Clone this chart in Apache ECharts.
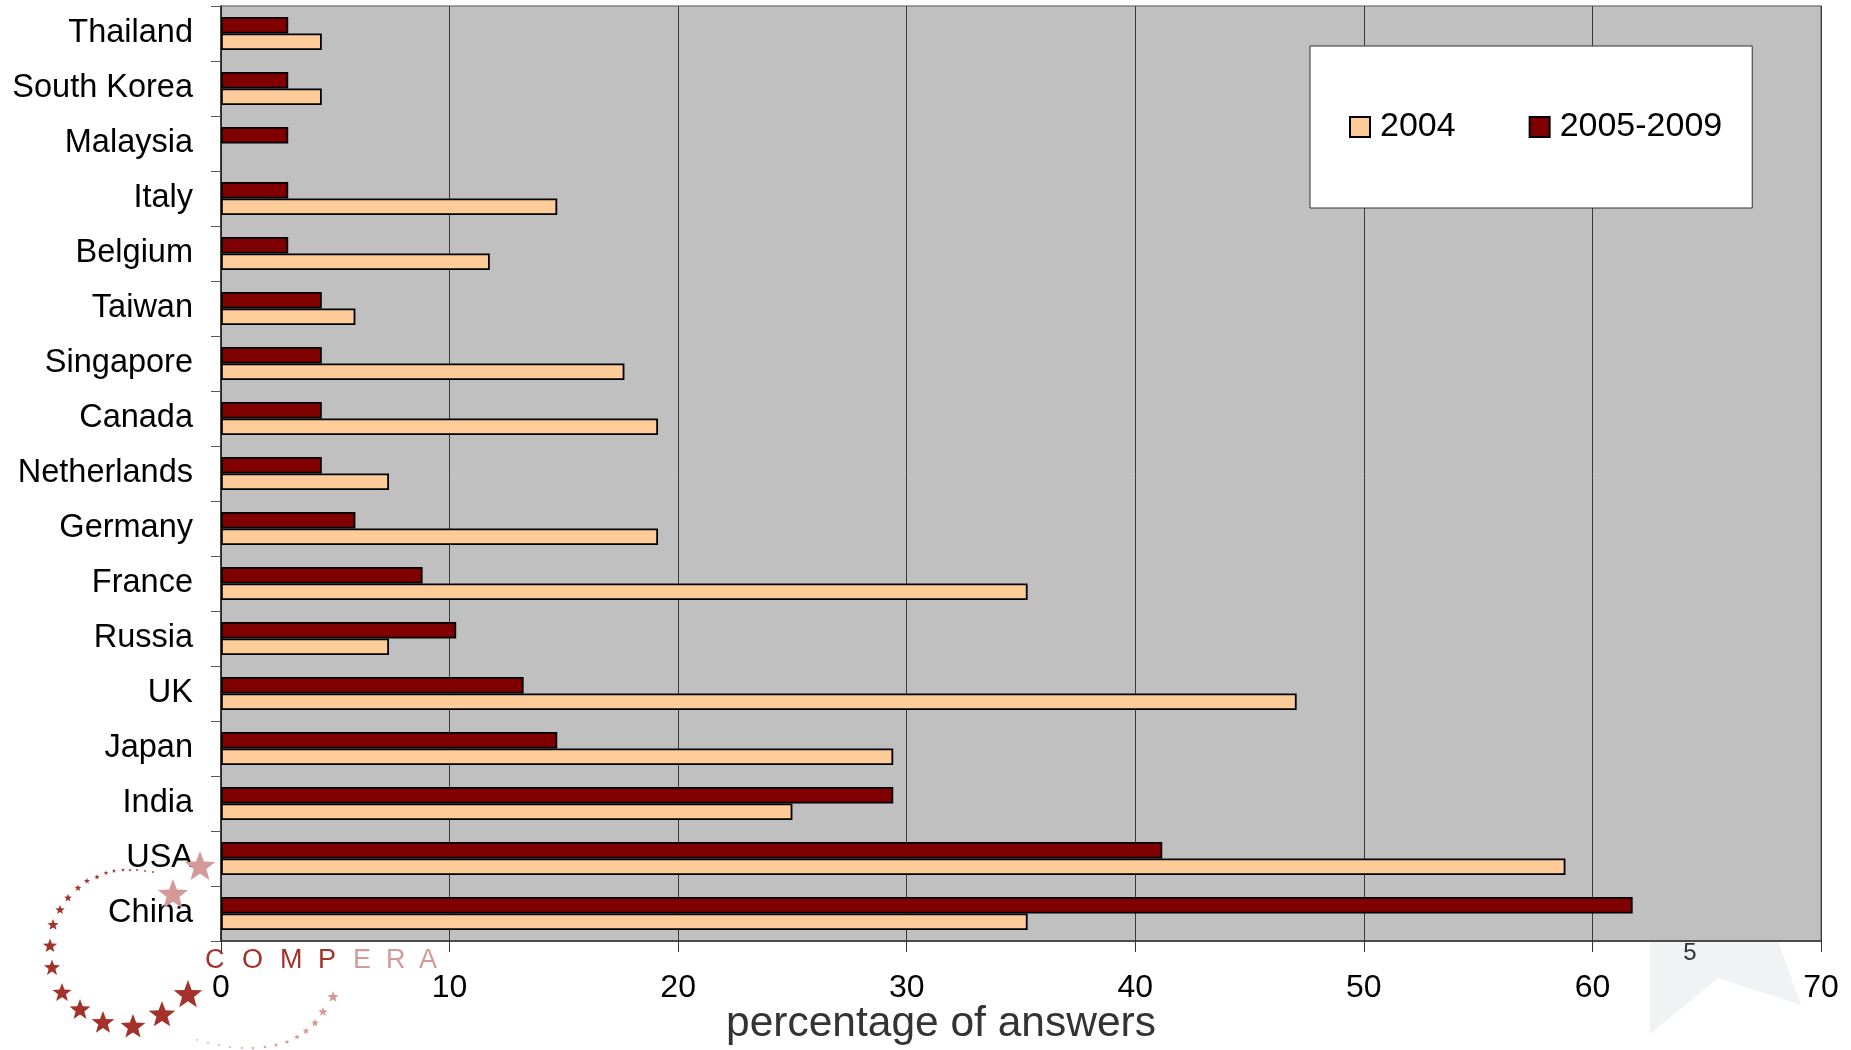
<!DOCTYPE html>
<html>
<head>
<meta charset="utf-8">
<title>percentage of answers</title>
<script src="https://cdn.jsdelivr.net/npm/echarts@6/dist/echarts.min.js"></script>
<style>
  html, body { margin: 0; padding: 0; background: #fff; }
  #chart { width: 1851px; height: 1050px; }
</style>
</head>
<body>
<div id="chart"></div>
<script>
// countries, bottom to top (category axis starts at the bottom)
const categories = ['China', 'USA', 'India', 'Japan', 'UK', 'Russia', 'France', 'Germany', 'Netherlands',
  'Canada', 'Singapore', 'Taiwan', 'Belgium', 'Italy', 'Malaysia', 'South Korea', 'Thailand']
const values2004 = [35.29, 58.82, 25.0, 29.41, 47.06, 7.35, 35.29, 19.12, 7.35,
  19.12, 17.65, 5.88, 11.76, 14.71, null, 4.41, 4.41]
const values2005to2009 = [61.76, 41.18, 29.41, 14.71, 13.24, 10.29, 8.82, 5.88, 4.41,
  4.41, 4.41, 4.41, 2.94, 2.94, 2.94, 2.94, 2.94]
const seriesNames = ['2004', '2005-2009']

const FONT = '"Liberation Sans", Arial, sans-serif'

// compera logo stars: [x, y, radius]
const logoDark = [
  [153, 872, 1.5], [145, 871, 1.5], [137, 870, 1.6], [130, 870, 1.8], [123, 870, 2], [114, 871, 2.2],
  [106, 873, 2.5], [97, 877, 2.8], [87, 881, 3.2], [78, 888, 3.6], [68, 898, 4.2], [60, 910, 5],
  [53, 925, 6], [50, 946, 7.5], [52, 968, 8.5], [62, 993, 10], [80, 1010, 11], [103, 1023, 12],
  [133, 1027, 13], [162, 1015, 14], [188, 995, 15]
]
const logoPink = [
  [200, 867, 16], [173, 895, 16],
  [333, 997, 6], [323, 1012, 5], [315, 1023, 4.2], [306, 1031, 3.6], [297, 1037, 3], [287, 1042, 2.6],
  [276, 1045, 2.2], [265, 1047, 2], [253, 1048, 1.8], [242, 1048, 1.6], [230, 1047, 1.5],
  [219, 1045, 1.4], [208, 1043, 1.3], [197, 1040, 1.2]
]
const logoLetters = [['C', 205], ['O', 242], ['M', 280], ['P', 318], ['E', 353], ['R', 386], ['A', 419]]

function starPoints(cx, cy, r) {
  const pts = []
  for (let i = 0; i < 10; i++) {
    const rr = i % 2 === 0 ? r : r * 0.42
    const a = -Math.PI / 2 + i * Math.PI / 5
    pts.push([cx + rr * Math.cos(a), cy + rr * Math.sin(a)])
  }
  return pts
}

const graphics = []
// faint background star at the bottom right
graphics.push({
  type: 'polygon', z: -10,
  shape: { points: [[1650, 941], [1650, 1034], [1718, 978], [1801, 1005], [1778, 941]] },
  style: { fill: '#f1f2f4' }
})
graphics.push({
  type: 'text', z: -5, x: 1690, y: 953,
  style: { text: '5', fill: '#333', font: '24px ' + FONT, align: 'center', verticalAlign: 'middle' }
})
logoDark.forEach(([x, y, r]) => {
  graphics.push({ type: 'polygon', z: 100, shape: { points: starPoints(x, y, r) }, style: { fill: '#a3322b' } })
})
logoPink.forEach(([x, y, r]) => {
  graphics.push({ type: 'polygon', z: 100, shape: { points: starPoints(x, y, r) }, style: { fill: '#d49a98' } })
})
logoLetters.forEach(([ch, x], i) => {
  graphics.push({
    type: 'text', z: 100, x: x, y: 961,
    style: { text: ch, fill: i < 4 ? '#a3322b' : '#d49a98', font: '27px ' + FONT, verticalAlign: 'middle' }
  })
})
// axis title, sits left of the plot centre in the original
graphics.push({
  type: 'text', x: 941, y: 1024,
  style: { text: 'percentage of answers', fill: '#333', font: '42.5px ' + FONT, align: 'center', verticalAlign: 'middle' }
})

const chart = echarts.init(document.getElementById('chart'))
chart.setOption({
  animation: false,
  textStyle: { fontFamily: FONT },
  grid: {
    left: 221,
    right: 30,
    top: 6,
    bottom: 109,
    show: true,
    backgroundColor: '#c0c0c0',
    borderColor: '#808080',
    borderWidth: 1.5
  },
  legend: {
    data: seriesNames,
    icon: 'rect',
    left: 1310,
    top: 46,
    orient: 'horizontal',
    itemWidth: 20,
    itemHeight: 20,
    itemGap: 73,
    padding: [64, 30, 64, 39],
    backgroundColor: '#fff',
    borderColor: '#333',
    borderWidth: 1,
    textStyle: { fontSize: 34, color: '#000', fontFamily: FONT, padding: [0, 0, 0, 5] }
  },
  xAxis: {
    type: 'value',
    min: 0,
    max: 70,
    interval: 10,
    axisLine: { show: true, lineStyle: { color: '#333', width: 1.5 } },
    axisTick: { show: true, length: 11, lineStyle: { color: '#333' } },
    axisLabel: { fontSize: 32, color: '#000', margin: 31 },
    splitLine: { show: true, lineStyle: { color: '#3a3a3a', width: 1 } }
  },
  yAxis: {
    type: 'category',
    data: categories,
    axisLine: { show: true, lineStyle: { color: '#222', width: 1.5 } },
    axisTick: { show: true, length: 10, lineStyle: { color: '#555' } },
    axisLabel: { fontSize: 32.5, color: '#000', margin: 28, padding: [5, 0, 0, 0] }
  },
  // the later period comes first so it is drawn above 2004 in each band
  series: [
    {
      name: seriesNames[1],
      type: 'bar',
      data: values2005to2009,
      barWidth: 16.5,
      barGap: '0%',
      itemStyle: { color: '#800000', borderColor: '#000', borderWidth: 1.8 }
    },
    {
      name: seriesNames[0],
      type: 'bar',
      data: values2004,
      barWidth: 16.5,
      barGap: '0%',
      itemStyle: { color: '#ffcc99', borderColor: '#000', borderWidth: 1.8 }
    }
  ],
  graphic: graphics
})
</script>
</body>
</html>
